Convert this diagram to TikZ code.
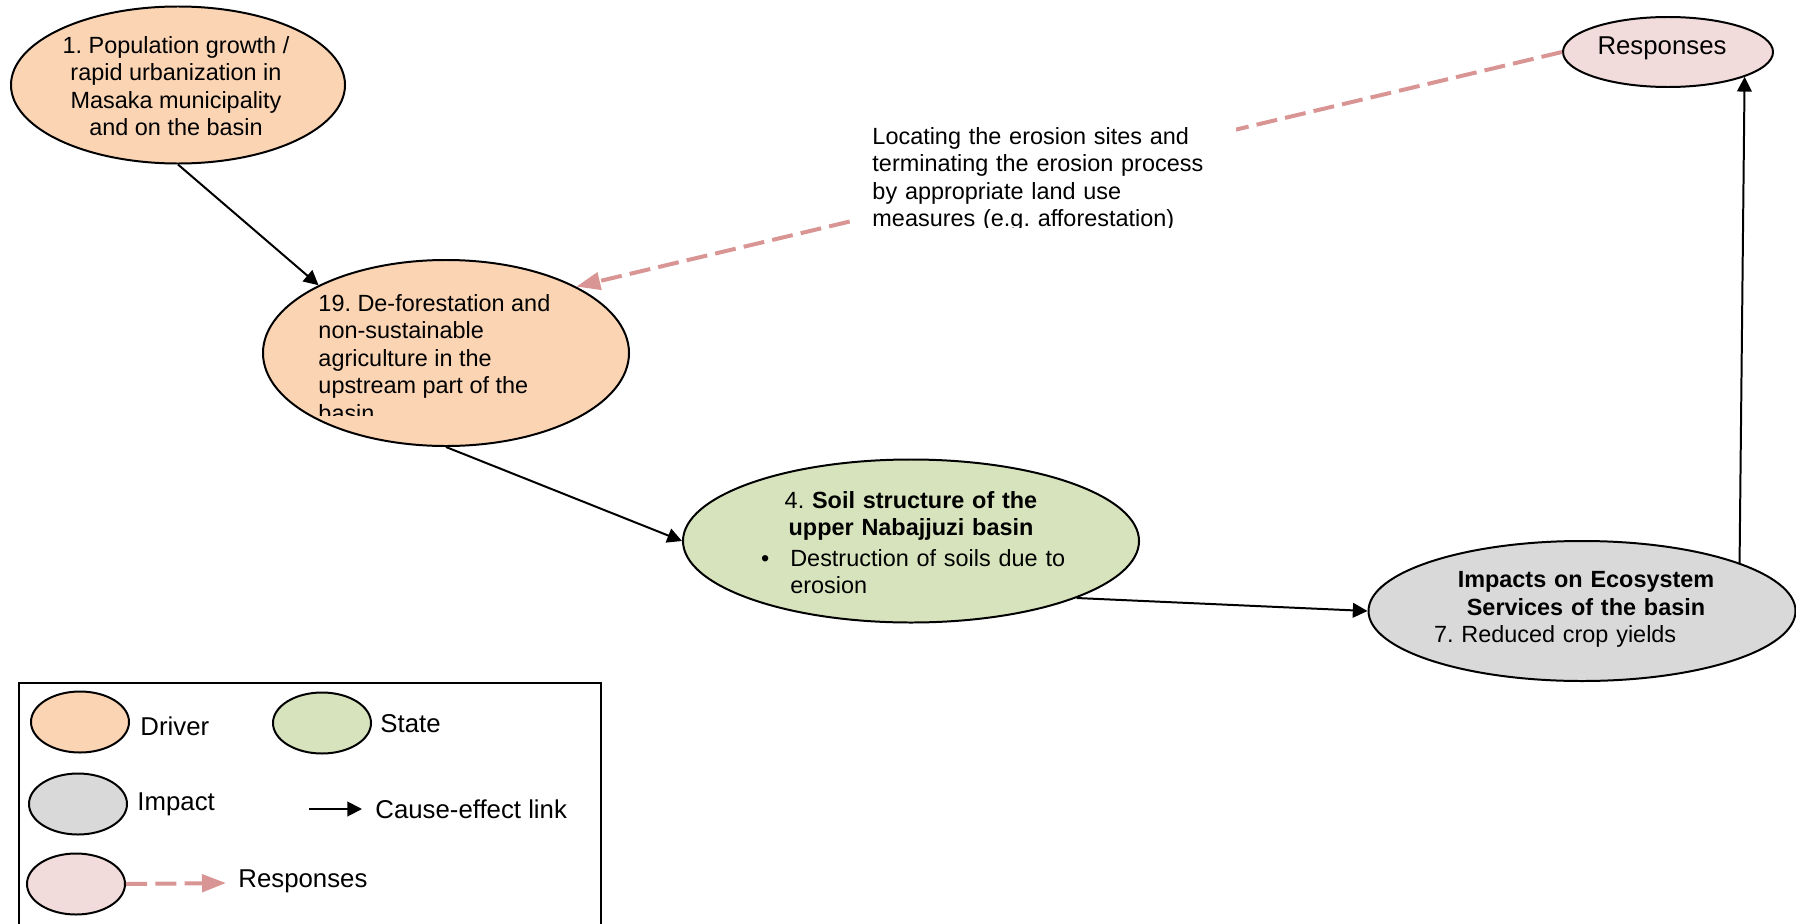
\documentclass[tikz,border=0pt]{standalone}
\usepackage{fontspec}
\setmainfont{Liberation Sans}
\frenchspacing
\usetikzlibrary{arrows.meta,shapes.geometric}
\definecolor{drvfill}{HTML}{FBD4B4}
\definecolor{stafill}{HTML}{D6E3BC}
\definecolor{impfill}{HTML}{D9D9D9}
\definecolor{rspfill}{HTML}{F2DBDB}
\definecolor{rsppink}{HTML}{D99594}
\tikzset{
  ell/.style={ellipse,draw,line width=0.85pt,inner sep=0pt},
  drv/.style={ell,fill=drvfill},
  sta/.style={ell,fill=stafill},
  imp/.style={ell,fill=impfill},
  rsp/.style={ell,fill=rspfill},
  txt/.style={inner sep=0pt,font=\fontsize{10}{11.7}\selectfont},
  lgtxt/.style={inner sep=0pt,anchor=west,font=\fontsize{11}{13}\selectfont},
  lnk/.style={line width=0.85pt,-{Triangle[length=0.22cm,width=0.22cm]}},
  rlnk/.style={draw=rsppink,line width=1.7pt,dash pattern=on 9pt off 3.5pt,
    -{Triangle[length=0.36cm,width=0.26cm,fill=rsppink]}},
}
\begin{document}
\begin{tikzpicture}[x=0.015cm,y=-0.015cm]
  \useasboundingbox (0,0) rectangle (1796,923);
  % ellipses
  \node[drv,minimum width=5.01cm,minimum height=2.355cm] (drv1) at (178,85) {};
  \node[drv,minimum width=5.49cm,minimum height=2.79cm] (drv19) at (446,353) {};
  \node[sta,minimum width=6.84cm,minimum height=2.445cm] (sta4) at (911,541) {};
  \node[imp,minimum width=6.405cm,minimum height=2.1cm] (imp7) at (1582,611) {};
  \node[rsp,minimum width=3.15cm,minimum height=1.05cm] (rsp) at (1668,52) {};
  % texts
  \node[txt,align=center,anchor=north] (drv1txt) at (176,36)
    {1. Population growth /\\ rapid urbanization in\\ Masaka municipality\\ and on the basin};
  \begin{scope}
    \clip (300,280) rectangle (600,415);
    \node[txt,align=left,anchor=north west] (drv19txt) at (318,294)
      {19. De-forestation and\\ non-sustainable\\ agriculture in the\\ upstream part of the\\ basin};
  \end{scope}
  \node[txt,text width=4.5cm,align=left,anchor=north] (sta4txt) at (911,491)
    {{\centering 4. \textbf{Soil structure of the}\\ \textbf{upper Nabajjuzi basin}\par}\vspace{1.2pt}%
     \mbox{\makebox[0.44cm][l]{\textbullet}Destruction of soils due to}\\ \hspace*{0.44cm}erosion};
  \node[txt,text width=4.56cm,align=left,anchor=north] (imp7txt) at (1586,571)
    {{\centering\bfseries Impacts on Ecosystem\\ Services of the basin\par}7. Reduced crop yields};
  \node[txt,font=\fontsize{11}{13}\selectfont,anchor=base] (rsptxt) at (1662,54) {Responses};
  % links
  \draw[lnk] (drv1.south) -- (drv19.152);
  \draw[lnk] (drv19.south) -- (sta4.west);
  \draw[lnk] (sta4.-19) -- (imp7.west);
  \draw[lnk] (imp7.17) -- (rsp.-18);
  \draw[rlnk] (rsp.west) -- (drv19.27);
  % response measure, on white over the dashed link
  \begin{scope}
    \clip (850,110) rectangle (1236,227);
    \node[txt,fill=white,anchor=north west,inner xsep=0.33cm,inner ysep=0.24cm,
      text width=5.115cm,align=left] (msrtxt) at (850,111)
      {Locating the erosion sites and\\ terminating the erosion process\\ by appropriate land use\\ measures (e.g. afforestation)};
  \end{scope}
  % legend
  \draw[line width=0.85pt] (19,683) rectangle (601,935);
  \node[drv,minimum width=1.47cm,minimum height=0.915cm] (lgdrv) at (80,722) {};
  \node[lgtxt] (lgdrvtxt) at (140,726) {Driver};
  \node[sta,minimum width=1.47cm,minimum height=0.915cm] (lgsta) at (322,723) {};
  \node[lgtxt] (lgstatxt) at (380,724) {State};
  \node[imp,minimum width=1.47cm,minimum height=0.915cm] (lgimp) at (78,804) {};
  \node[lgtxt] (lgimptxt) at (137,804) {Impact};
  \coordinate (lglnka) at (309,809);
  \coordinate (lglnkb) at (362,809);
  \draw[lnk] (lglnka) -- (lglnkb);
  \node[lgtxt] (lglnktxt) at (375,809) {Cause-effect link};
  \node[rsp,minimum width=1.47cm,minimum height=0.915cm] (lgrsp) at (76,884) {};
  \coordinate (lgrlnk) at (226,883);
  \draw[rlnk] (lgrsp.east) -- (lgrlnk);
  \node[lgtxt] (lgrsptxt) at (238,881) {Responses};
\end{tikzpicture}
\end{document}
